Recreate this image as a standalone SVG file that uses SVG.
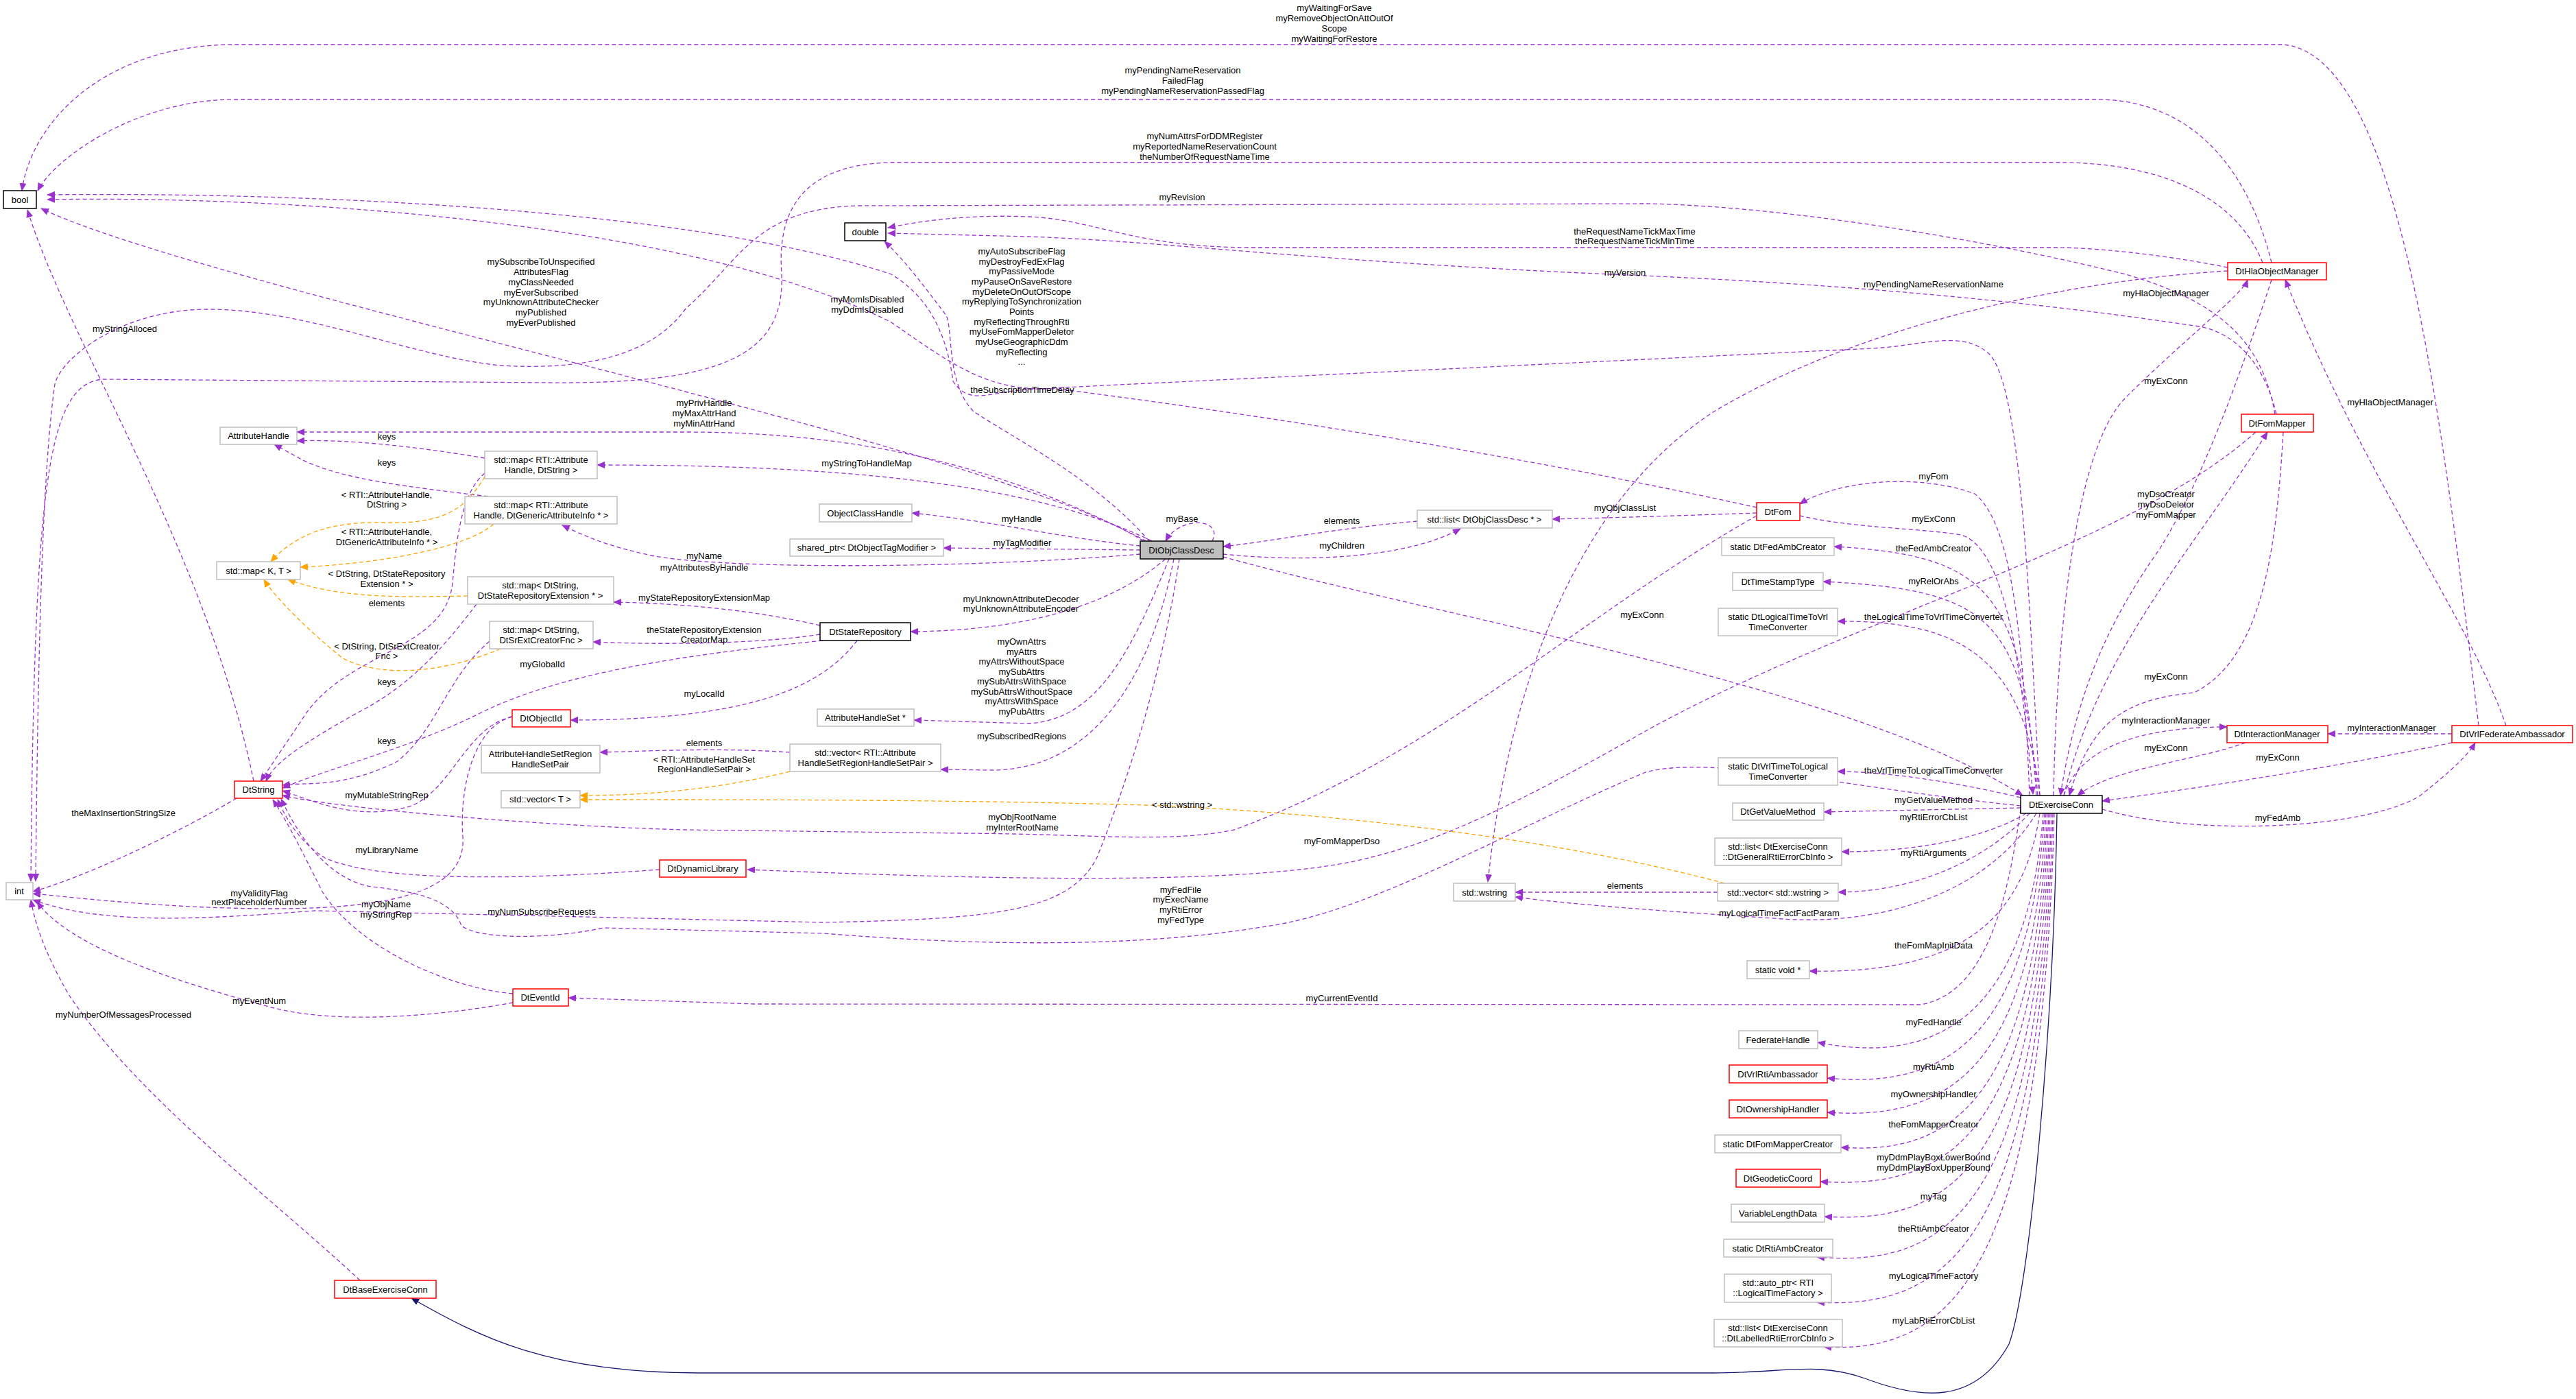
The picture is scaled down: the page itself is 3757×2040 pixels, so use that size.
<svg xmlns="http://www.w3.org/2000/svg" width="3757" height="2040" viewBox="0 0 3757 2040">
<style>
text{font-family:"Liberation Sans",Arial,sans-serif;font-size:13px;fill:#000;text-anchor:middle}
.g{fill:#fff;stroke:#bfbfbf;stroke-width:1.5}
.r{fill:#fff;stroke:#ff0000;stroke-width:1.5}
.b{fill:#fff;stroke:#000;stroke-width:1.5}
.m{fill:#bfbfbf;stroke:#000;stroke-width:1.5}
.e{fill:none;stroke:#9a32cd;stroke-width:1.3;stroke-dasharray:6,4;marker-end:url(#ap)}
.o{fill:none;stroke:#ffa500;stroke-width:1.3;stroke-dasharray:6,4;marker-end:url(#ao)}
.n{fill:none;stroke:#191970;stroke-width:1.3;marker-end:url(#an)}
</style>
<defs>
<marker id="ap" markerWidth="12" markerHeight="10" refX="11" refY="5" orient="auto" markerUnits="userSpaceOnUse"><path d="M0,0 L12,5 L0,10 z" fill="#9a32cd"/></marker>
<marker id="ao" markerWidth="12" markerHeight="10" refX="11" refY="5" orient="auto" markerUnits="userSpaceOnUse"><path d="M0,0 L12,5 L0,10 z" fill="#ffa500"/></marker>
<marker id="an" markerWidth="12" markerHeight="10" refX="11" refY="5" orient="auto" markerUnits="userSpaceOnUse"><path d="M0,0 L12,5 L0,10 z" fill="#191970"/></marker>
</defs>
<rect width="3757" height="2040" fill="#fff"/>
<g id="connectors">
<path class="e" d="M3615,1058 C3560,600 3500,80 3330,65 L343,65 C150,65 45,180 32,278"/>
<path class="e" d="M3313,383 C3280,250 3200,145 3058,145 L343,145 C200,145 80,230 55,278"/>
<path class="e" d="M3300,383 C3250,260 3100,237 3006,237 L1300,237 C1150,240 1135,330 1140,400 C1145,520 1050,560 800,558 L150,553 C70,560 50,700 45,1285"/>
<path class="e" d="M3318,604 C3300,500 3240,440 3100,400 C2900,350 2600,300 2400,297 L1250,300 C1100,305 1080,380 1000,450 C950,520 850,540 730,533 C600,520 450,451 303,451 C180,451 90,520 80,560 C60,700 55,1000 52,1285"/>
<path class="e" d="M3249,390 C3150,370 3050,361 3000,361 L1828,361 C1650,361 1600,320 1500,316 C1400,312 1330,325 1295,332"/>
<path class="e" d="M3320,604 C3300,520 3250,480 3200,475 C2900,430 2600,410 2350,400 C1900,380 1700,352 1500,345 L1295,340"/>
<path class="e" d="M3249,395 C3000,410 2700,480 2500,600 C2300,730 2200,1000 2170,1286"/>
<path class="e" d="M2975,1160 C2960,900 2950,560 2900,515 C2860,480 2800,505 2730,508 L1550,565 C1450,575 1400,540 1300,470 C1000,320 400,285 69,291"/>
<path class="e" d="M2562,740 C2200,660 1800,600 1550,568 C1450,560 1420,600 1390,556 C1380,480 1350,430 1300,400 C1000,300 400,280 69,284"/>
<path class="e" d="M1676,789 C1600,700 1480,640 1420,600 C1380,560 1390,480 1380,460 C1350,420 1320,380 1290,352"/>
<path class="e" d="M1668,789 C1450,650 300,420 60,304"/>
<path class="e" d="M370,1139 C300,800 100,500 40,306"/>
<path class="e" d="M1672,789 C1500,700 1300,630 1000,630 L433,630"/>
<path class="e" d="M1680,789 C1500,700 1200,678 871,678"/>
<path class="e" d="M1663,796 C1550,785 1450,760 1330,748"/>
<path class="e" d="M1663,802 L1376,799"/>
<path class="e" d="M1663,808 C1400,830 1050,830 950,810 C880,795 850,780 820,766"/>
<path class="e" d="M1700,815 C1600,900 1450,920 1328,921"/>
<path class="e" d="M1705,815 C1650,950 1600,1050 1500,1055 L1333,1050"/>
<path class="e" d="M1712,815 C1680,980 1600,1120 1450,1123 L1372,1122"/>
<path class="e" d="M1720,815 C1700,950 1660,1100 1600,1250 C1560,1330 1450,1340 1200,1345 L460,1328 C300,1340 150,1350 48,1312"/>
<path class="e" d="M2562,752 C2300,900 2100,1100 1800,1210 C1700,1230 1600,1216 1400,1215 L1000,1210 C800,1205 500,1180 412,1160"/>
<path class="e" d="M3290,630 C3100,800 2700,900 2400,1066 C2200,1180 2100,1225 2000,1250 C1850,1290 1500,1285 1090,1268"/>
<path class="e" d="M2947,1175 C2700,1150 2500,1100 2400,1126 C2200,1210 2000,1330 1846,1351 C1700,1375 1500,1385 1200,1361 L880,1353 C800,1370 700,1370 673,1350 C660,1310 600,1300 551,1294 C500,1290 450,1250 410,1165"/>
<path class="e" d="M747,1045 C690,1060 670,1150 675,1220 C680,1290 600,1325 400,1325 C250,1325 120,1310 48,1303"/>
<path class="e" d="M2947,1180 C2930,1300 2900,1450 2800,1465 L1100,1464 L829,1455"/>
<path class="e" d="M748,1462 C650,1480 500,1495 400,1470 C250,1430 100,1380 54,1315"/>
<path class="e" d="M747,1045 C680,1060 660,1150 600,1175 C520,1200 450,1165 412,1153"/>
<path class="e" d="M962,1268 C800,1280 560,1290 474,1251 C440,1230 420,1200 405,1166"/>
<path class="e" d="M748,1449 C650,1440 520,1380 470,1300 C440,1240 420,1200 398,1166"/>
<path class="e" d="M707,690 C670,720 665,800 660,850 C650,950 500,950 440,1050 L380,1139"/>
<path class="e" d="M695,881 C650,940 600,1000 520,1040 C450,1080 400,1110 388,1139"/>
<path class="e" d="M714,935 C650,990 640,1060 580,1110 C500,1150 450,1140 412,1145"/>
<path class="e" d="M345,1164 C250,1220 120,1280 48,1300"/>
<path class="e" d="M1200,934 C1000,955 820,980 700,1040 C600,1090 480,1120 412,1149"/>
<path class="e" d="M1250,934 C1200,1000 1100,1050 832,1050"/>
<path class="e" d="M1196,912 C1100,890 1000,880 895,878"/>
<path class="e" d="M1196,925 C1100,940 950,940 865,936"/>
<path class="e" d="M2067,760 C1950,770 1850,790 1784,797"/>
<path class="e" d="M1784,808 C1900,820 2050,815 2130,771"/>
<path class="e" d="M1768,789 C1785,755 1720,752 1700,789"/>
<path class="e" d="M2562,748 C2450,752 2350,755 2264,757"/>
<path class="e" d="M2960,1160 C2950,900 2930,760 2880,720 C2800,690 2680,700 2625,735"/>
<path class="e" d="M2625,752 C2700,770 2800,770 2860,780 C2930,800 2950,1000 2965,1158"/>
<path class="e" d="M1784,812 C2100,900 2700,1000 2950,1160"/>
<path class="e" d="M2970,1160 C2950,860 2900,810 2675,797"/>
<path class="e" d="M2972,1160 C2950,900 2900,860 2659,848"/>
<path class="e" d="M2975,1160 C2950,950 2850,905 2680,906"/>
<path class="e" d="M2947,1163 C2850,1140 2750,1125 2680,1125"/>
<path class="e" d="M2947,1178 L2660,1184"/>
<path class="e" d="M2955,1186 C2900,1220 2800,1242 2686,1242"/>
<path class="e" d="M2960,1186 C2900,1250 2800,1300 2681,1301"/>
<path class="e" d="M2505,1301 L2210,1301"/>
<path class="e" d="M2970,1186 C2900,1300 2750,1350 2600,1340 C2450,1330 2300,1320 2210,1308"/>
<path class="e" d="M2975,1186 C2950,1350 2850,1420 2639,1416"/>
<path class="e" d="M2980,1186 C2960,1450 2850,1560 2651,1520"/>
<path class="e" d="M2982,1186 C2960,1500 2850,1590 2665,1572"/>
<path class="e" d="M2984,1186 C2965,1550 2850,1635 2665,1622"/>
<path class="e" d="M2986,1186 C2968,1600 2850,1685 2685,1673"/>
<path class="e" d="M2988,1186 C2970,1650 2850,1735 2655,1723"/>
<path class="e" d="M2990,1186 C2972,1700 2850,1785 2661,1774"/>
<path class="e" d="M2992,1186 C2974,1750 2850,1850 2650,1833"/>
<path class="e" d="M2994,1186 C2976,1800 2850,1910 2650,1899"/>
<path class="e" d="M2996,1186 C2978,1850 2850,1975 2660,1964"/>
<path class="e" d="M3066,1180 C3200,1220 3450,1210 3530,1160 C3580,1120 3600,1100 3610,1083"/>
<path class="e" d="M3576,1083 C3400,1120 3200,1150 3066,1168"/>
<path class="e" d="M3576,1070 L3395,1070"/>
<path class="e" d="M3010,1160 C3030,1100 3100,1060 3248,1060"/>
<path class="e" d="M3275,1083 C3200,1110 3080,1120 3030,1160"/>
<path class="e" d="M3655,1058 C3600,900 3450,700 3333,408"/>
<path class="e" d="M2995,1160 C3000,900 3030,650 3100,580 C3180,500 3270,430 3278,408"/>
<path class="e" d="M3313,408 C3250,600 3200,720 3150,800 C3080,900 3030,1000 3005,1160"/>
<path class="e" d="M3010,1160 C3060,950 3200,800 3307,630"/>
<path class="e" d="M3330,630 C3320,800 3300,960 3200,1010 C3100,1020 3050,1050 3018,1160"/>
<path class="e" d="M525,1867 C400,1750 200,1600 100,1450 C60,1380 50,1340 45,1312"/>
<path class="e" d="M707,668 C600,650 500,640 433,643"/>
<path class="e" d="M712,724 C600,710 500,700 440,670 L400,648"/>
<path class="e" d="M1152,1097 C1050,1090 950,1095 875,1097"/>
<path class="o" d="M2515,1288 C2300,1230 2000,1190 1700,1175 C1400,1165 1000,1166 846,1166"/>
<path class="o" d="M1152,1125 C1050,1150 950,1160 846,1160"/>
<path class="o" d="M707,695 C680,740 650,765 560,762 C480,760 430,780 395,819"/>
<path class="o" d="M720,764 C680,800 550,822 438,827"/>
<path class="o" d="M682,869 C600,870 500,875 420,845"/>
<path class="o" d="M730,946 C650,980 560,990 500,960 C450,920 400,870 385,845"/>
<path class="n" d="M3000,1186 C2995,1500 2960,1880 2930,1960 C2880,2050 2800,2040 2720,2010 C2650,1985 2600,2002 2500,2002 L1020,2002 C800,2002 700,1950 600,1893"/>
</g>
<g id="labels">
<text x="1946" y="16">myWaitingForSave</text><text x="1946" y="31">myRemoveObjectOnAttOutOf</text><text x="1946" y="46">Scope</text><text x="1946" y="61">myWaitingForRestore</text>
<text x="1725" y="107">myPendingNameReservation</text><text x="1725" y="122">FailedFlag</text><text x="1725" y="137">myPendingNameReservationPassedFlag</text>
<text x="1757" y="203">myNumAttrsForDDMRegister</text><text x="1757" y="218">myReportedNameReservationCount</text><text x="1757" y="233">theNumberOfRequestNameTime</text>
<text x="1724" y="292">myRevision</text>
<text x="2384" y="342">theRequestNameTickMaxTime</text><text x="2384" y="356">theRequestNameTickMinTime</text>
<text x="2370" y="402">myVersion</text>
<text x="2820" y="419">myPendingNameReservationName</text>
<text x="1265" y="441">myMomIsDisabled</text><text x="1265" y="456">myDdmIsDisabled</text>
<text x="1490" y="371">myAutoSubscribeFlag</text><text x="1490" y="386">myDestroyFedExFlag</text><text x="1490" y="400">myPassiveMode</text><text x="1490" y="415">myPauseOnSaveRestore</text><text x="1490" y="430">myDeleteOnOutOfScope</text><text x="1490" y="444">myReplyingToSynchronization</text><text x="1490" y="459">Points</text><text x="1490" y="474">myReflectingThroughRti</text><text x="1490" y="488">myUseFomMapperDeletor</text><text x="1490" y="503">myUseGeographicDdm</text><text x="1490" y="518">myReflecting</text><text x="1490" y="532">...</text>
<text x="1491" y="573">theSubscriptionTimeDelay</text>
<text x="789" y="386">mySubscribeToUnspecified</text><text x="789" y="401">AttributesFlag</text><text x="789" y="416">myClassNeeded</text><text x="789" y="431">myEverSubscribed</text><text x="789" y="445">myUnknownAttributeChecker</text><text x="789" y="460">myPublished</text><text x="789" y="475">myEverPublished</text>
<text x="182" y="484">myStringAlloced</text>
<text x="1027" y="592">myPrivHandle</text><text x="1027" y="607">myMaxAttrHand</text><text x="1027" y="622">myMinAttrHand</text>
<text x="1264" y="680">myStringToHandleMap</text>
<text x="1490" y="761">myHandle</text>
<text x="1491" y="796">myTagModifier</text>
<text x="1724" y="761">myBase</text>
<text x="1957" y="764">elements</text>
<text x="1957" y="800">myChildren</text>
<text x="2370" y="745">myObjClassList</text>
<text x="2395" y="901">myExConn</text>
<text x="1027" y="815">myName</text><text x="1027" y="832">myAttributesByHandle</text>
<text x="1489" y="878">myUnknownAttributeDecoder</text><text x="1489" y="892">myUnknownAttributeEncoder</text>
<text x="1490" y="940">myOwnAttrs</text><text x="1490" y="955">myAttrs</text><text x="1490" y="969">myAttrsWithoutSpace</text><text x="1490" y="984">mySubAttrs</text><text x="1490" y="998">mySubAttrsWithSpace</text><text x="1490" y="1013">mySubAttrsWithoutSpace</text><text x="1490" y="1027">myAttrsWithSpace</text><text x="1490" y="1042">myPubAttrs</text>
<text x="1490" y="1078">mySubscribedRegions</text>
<text x="1027" y="876">myStateRepositoryExtensionMap</text>
<text x="1027" y="923">theStateRepositoryExtension</text><text x="1027" y="937">CreatorMap</text>
<text x="791" y="973">myGlobalId</text>
<text x="1027" y="1016">myLocalId</text>
<text x="1027" y="1088">elements</text>
<text x="1027" y="1112">&lt; RTI::AttributeHandleSet</text><text x="1027" y="1126">RegionHandleSetPair &gt;</text>
<text x="1724" y="1178">&lt; std::wstring &gt;</text>
<text x="1491" y="1196">myObjRootName</text><text x="1491" y="1211">myInterRootName</text>
<text x="1957" y="1231">myFomMapperDso</text>
<text x="1722" y="1302">myFedFile</text><text x="1722" y="1316">myExecName</text><text x="1722" y="1331">myRtiError</text><text x="1722" y="1346">myFedType</text>
<text x="1957" y="1460">myCurrentEventId</text>
<text x="564" y="641">keys</text>
<text x="564" y="679">keys</text>
<text x="564" y="726">&lt; RTI::AttributeHandle,</text><text x="564" y="740">DtString &gt;</text>
<text x="564" y="780">&lt; RTI::AttributeHandle,</text><text x="564" y="795">DtGenericAttributeInfo * &gt;</text>
<text x="564" y="841">&lt; DtString, DtStateRepository</text><text x="564" y="856">Extension * &gt;</text>
<text x="564" y="884">elements</text>
<text x="564" y="947">&lt; DtString, DtSrExtCreator</text><text x="564" y="961">Fnc &gt;</text>
<text x="564" y="999">keys</text>
<text x="564" y="1085">keys</text>
<text x="564" y="1164">myMutableStringRep</text>
<text x="180" y="1190">theMaxInsertionStringSize</text>
<text x="564" y="1244">myLibraryName</text>
<text x="378" y="1307">myValidityFlag</text><text x="378" y="1320">nextPlaceholderNumber</text>
<text x="563" y="1323">myObjName</text><text x="563" y="1338">myStringRep</text>
<text x="790" y="1334">myNumSubscribeRequests</text>
<text x="378" y="1464">myEventNum</text>
<text x="180" y="1484">myNumberOfMessagesProcessed</text>
<text x="2820" y="699">myFom</text>
<text x="2820" y="761">myExConn</text>
<text x="2820" y="804">theFedAmbCreator</text>
<text x="2820" y="852">myRelOrAbs</text>
<text x="2820" y="904">theLogicalTimeToVrlTimeConverter</text>
<text x="2820" y="1128">theVrlTimeToLogicalTimeConverter</text>
<text x="2820" y="1171">myGetValueMethod</text>
<text x="2820" y="1196">myRtiErrorCbList</text>
<text x="2820" y="1248">myRtiArguments</text>
<text x="2370" y="1296">elements</text>
<text x="2595" y="1336">myLogicalTimeFactFactParam</text>
<text x="2820" y="1383">theFomMapInitData</text>
<text x="2820" y="1495">myFedHandle</text>
<text x="2820" y="1560">myRtiAmb</text>
<text x="2820" y="1600">myOwnershipHandler</text>
<text x="2820" y="1644">theFomMapperCreator</text>
<text x="2820" y="1692">myDdmPlayBoxLowerBound</text><text x="2820" y="1707">myDdmPlayBoxUpperBound</text>
<text x="2820" y="1749">myTag</text>
<text x="2820" y="1796">theRtiAmbCreator</text>
<text x="2820" y="1865">myLogicalTimeFactory</text>
<text x="2820" y="1930">myLabRtiErrorCbList</text>
<text x="3159" y="432">myHlaObjectManager</text>
<text x="3159" y="560">myExConn</text>
<text x="3159" y="725">myDsoCreator</text><text x="3159" y="740">myDsoDeletor</text><text x="3159" y="755">myFomMapper</text>
<text x="3159" y="991">myExConn</text>
<text x="3159" y="1055">myInteractionManager</text>
<text x="3159" y="1095">myExConn</text>
<text x="3488" y="1066">myInteractionManager</text>
<text x="3322" y="1109">myExConn</text>
<text x="3322" y="1197">myFedAmb</text>
<text x="3486" y="591">myHlaObjectManager</text>
</g>
<g id="bool"><rect class="b" x="5" y="278" width="48" height="26"/><text x="29" y="296">bool</text></g>
<g id="double"><rect class="b" x="1232" y="325" width="60" height="26"/><text x="1262" y="343">double</text></g>
<g id="int"><rect class="g" x="9" y="1287" width="39" height="25"/><text x="28" y="1304">int</text></g>
<g id="AttributeHandle"><rect class="g" x="321" y="623" width="112" height="25"/><text x="377" y="640">AttributeHandle</text></g>
<g id="mapAHStr"><rect class="g" x="707" y="658" width="164" height="40"/><text x="789" y="675">std::map&lt; RTI::Attribute</text><text x="789" y="690">Handle, DtString &gt;</text></g>
<g id="mapAHGen"><rect class="g" x="678" y="724" width="222" height="40"/><text x="789" y="741">std::map&lt; RTI::Attribute</text><text x="789" y="756">Handle, DtGenericAttributeInfo * &gt;</text></g>
<g id="mapKT"><rect class="g" x="316" y="819" width="122" height="26"/><text x="377" y="837">std::map&lt; K, T &gt;</text></g>
<g id="mapStrExt"><rect class="g" x="682" y="841" width="213" height="40"/><text x="788" y="858">std::map&lt; DtString,</text><text x="788" y="873">DtStateRepositoryExtension * &gt;</text></g>
<g id="mapStrFnc"><rect class="g" x="714" y="906" width="151" height="40"/><text x="789" y="923">std::map&lt; DtString,</text><text x="789" y="938">DtSrExtCreatorFnc &gt;</text></g>
<g id="DtObjectId"><rect class="r" x="747" y="1035" width="85" height="25"/><text x="789" y="1052">DtObjectId</text></g>
<g id="AHSRHSP"><rect class="g" x="702" y="1087" width="173" height="40"/><text x="788" y="1104">AttributeHandleSetRegion</text><text x="788" y="1119">HandleSetPair</text></g>
<g id="vectorT"><rect class="g" x="731" y="1153" width="115" height="25"/><text x="788" y="1170">std::vector&lt; T &gt;</text></g>
<g id="DtString"><rect class="r" x="342" y="1139" width="70" height="25"/><text x="377" y="1156">DtString</text></g>
<g id="DtDynamicLibrary"><rect class="r" x="962" y="1254" width="126" height="25"/><text x="1025" y="1271">DtDynamicLibrary</text></g>
<g id="DtEventId"><rect class="r" x="748" y="1442" width="81" height="25"/><text x="788" y="1459">DtEventId</text></g>
<g id="DtBaseExerciseConn"><rect class="r" x="488" y="1867" width="148" height="26"/><text x="562" y="1885">DtBaseExerciseConn</text></g>
<g id="DtObjClassDesc"><rect class="m" x="1663" y="789" width="121" height="26"/><text x="1723" y="807">DtObjClassDesc</text></g>
<g id="ObjectClassHandle"><rect class="g" x="1195" y="735" width="135" height="26"/><text x="1262" y="753">ObjectClassHandle</text></g>
<g id="sharedPtr"><rect class="g" x="1152" y="786" width="224" height="25"/><text x="1264" y="803">shared_ptr&lt; DtObjectTagModifier &gt;</text></g>
<g id="DtStateRepository"><rect class="b" x="1196" y="908" width="132" height="26"/><text x="1262" y="926">DtStateRepository</text></g>
<g id="AttributeHandleSet"><rect class="g" x="1192" y="1034" width="141" height="25"/><text x="1262" y="1051">AttributeHandleSet *</text></g>
<g id="vectorAHS"><rect class="g" x="1152" y="1085" width="220" height="40"/><text x="1262" y="1102">std::vector&lt; RTI::Attribute</text><text x="1262" y="1117">HandleSetRegionHandleSetPair &gt;</text></g>
<g id="wstring"><rect class="g" x="2120" y="1288" width="90" height="26"/><text x="2165" y="1306">std::wstring</text></g>
<g id="listObjClassDesc"><rect class="g" x="2067" y="744" width="197" height="26"/><text x="2165" y="762">std::list&lt; DtObjClassDesc * &gt;</text></g>
<g id="DtHlaObjectManager"><rect class="r" x="3249" y="383" width="144" height="25"/><text x="3321" y="400">DtHlaObjectManager</text></g>
<g id="DtFomMapper"><rect class="r" x="3269" y="604" width="105" height="26"/><text x="3321" y="622">DtFomMapper</text></g>
<g id="DtFom"><rect class="r" x="2562" y="733" width="63" height="26"/><text x="2593" y="751">DtFom</text></g>
<g id="DtFedAmbCreator"><rect class="g" x="2511" y="784" width="164" height="26"/><text x="2593" y="802">static DtFedAmbCreator</text></g>
<g id="DtTimeStampType"><rect class="g" x="2527" y="835" width="132" height="26"/><text x="2593" y="853">DtTimeStampType</text></g>
<g id="LTtoVrl"><rect class="g" x="2506" y="887" width="174" height="40"/><text x="2593" y="904">static DtLogicalTimeToVrl</text><text x="2593" y="919">TimeConverter</text></g>
<g id="DtInteractionManager"><rect class="r" x="3248" y="1058" width="147" height="25"/><text x="3321" y="1075">DtInteractionManager</text></g>
<g id="DtVrlFederateAmbassador"><rect class="r" x="3576" y="1058" width="176" height="25"/><text x="3664" y="1075">DtVrlFederateAmbassador</text></g>
<g id="VrlToLT"><rect class="g" x="2506" y="1105" width="174" height="40"/><text x="2593" y="1122">static DtVrlTimeToLogical</text><text x="2593" y="1137">TimeConverter</text></g>
<g id="DtExerciseConn"><rect class="b" x="2947" y="1160" width="119" height="26"/><text x="3006" y="1178">DtExerciseConn</text></g>
<g id="DtGetValueMethod"><rect class="g" x="2527" y="1171" width="133" height="25"/><text x="2593" y="1188">DtGetValueMethod</text></g>
<g id="listGen"><rect class="g" x="2501" y="1222" width="185" height="40"/><text x="2593" y="1239">std::list&lt; DtExerciseConn</text><text x="2593" y="1254">::DtGeneralRtiErrorCbInfo &gt;</text></g>
<g id="vectorWstring"><rect class="g" x="2505" y="1288" width="176" height="26"/><text x="2593" y="1306">std::vector&lt; std::wstring &gt;</text></g>
<g id="staticVoid"><rect class="g" x="2548" y="1401" width="91" height="26"/><text x="2593" y="1419">static void *</text></g>
<g id="FederateHandle"><rect class="g" x="2536" y="1503" width="115" height="26"/><text x="2593" y="1521">FederateHandle</text></g>
<g id="DtVrlRtiAmbassador"><rect class="r" x="2522" y="1553" width="143" height="26"/><text x="2593" y="1571">DtVrlRtiAmbassador</text></g>
<g id="DtOwnershipHandler"><rect class="r" x="2522" y="1604" width="143" height="26"/><text x="2593" y="1622">DtOwnershipHandler</text></g>
<g id="DtFomMapperCreator"><rect class="g" x="2501" y="1655" width="184" height="26"/><text x="2593" y="1673">static DtFomMapperCreator</text></g>
<g id="DtGeodeticCoord"><rect class="r" x="2532" y="1705" width="123" height="26"/><text x="2593" y="1723">DtGeodeticCoord</text></g>
<g id="VariableLengthData"><rect class="g" x="2525" y="1756" width="136" height="26"/><text x="2593" y="1774">VariableLengthData</text></g>
<g id="DtRtiAmbCreator"><rect class="g" x="2514" y="1807" width="159" height="26"/><text x="2593" y="1825">static DtRtiAmbCreator</text></g>
<g id="autoPtr"><rect class="g" x="2515" y="1858" width="156" height="41"/><text x="2593" y="1875">std::auto_ptr&lt; RTI</text><text x="2593" y="1890">::LogicalTimeFactory &gt;</text></g>
<g id="listLab"><rect class="g" x="2500" y="1924" width="187" height="40"/><text x="2593" y="1941">std::list&lt; DtExerciseConn</text><text x="2593" y="1956">::DtLabelledRtiErrorCbInfo &gt;</text></g>
</svg>
